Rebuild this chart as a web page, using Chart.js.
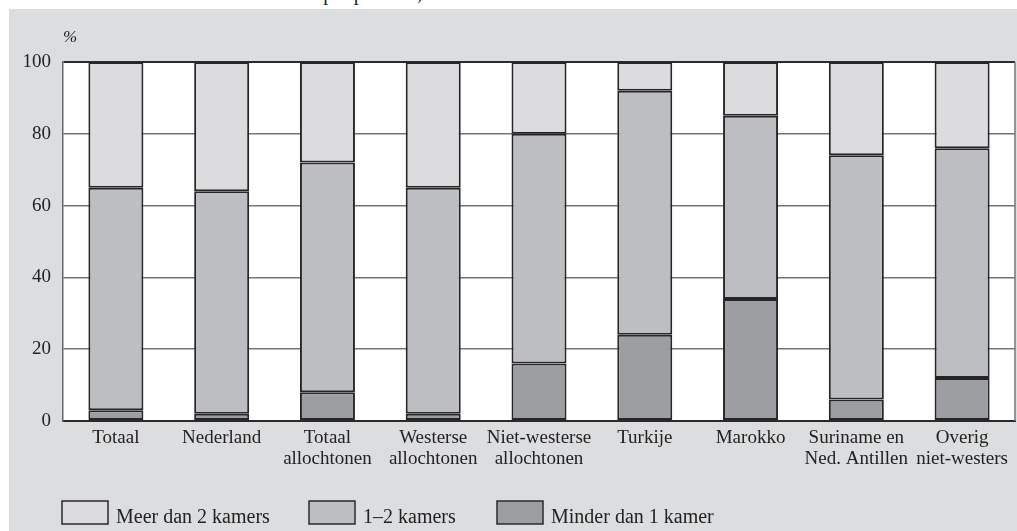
<!DOCTYPE html>
<html>
<head>
<meta charset="utf-8">
<script src="https://cdn.jsdelivr.net/npm/chart.js@4/dist/chart.umd.min.js"></script>
<style>
  html, body { margin: 0; padding: 0; background: #ffffff; }
  #wrap { position: relative; width: 1017px; height: 531px; overflow: hidden; }
  #panel { position: absolute; left: 9px; top: 9px; width: 1008px; height: 522px; background: #dcdddf; }
  #title { position: absolute; left: 0; top: -17px; width: 467px; text-align: right; white-space: nowrap;
           font: 20px "Liberation Serif", serif; color: #222; line-height: 20px; }
  #c { position: absolute; left: 0; top: 0; }
</style>
</head>
<body>
<div id="wrap">
  <div id="title">Huishoudens naar aantal kamers per persoon, 2006</div>
  <div id="panel"></div>
  <canvas id="c" width="1017" height="531"></canvas>
</div>
<script>
// Categories (multi-line labels)
const categories = [
  ['Totaal'],
  ['Nederland'],
  ['Totaal', 'allochtonen'],
  ['Westerse', 'allochtonen'],
  ['Niet-westerse', 'allochtonen'],
  ['Turkije'],
  ['Marokko'],
  ['Suriname en', 'Ned. Antillen'],
  ['Overig', 'niet-westers']
];

// Shares in %, stacked bottom to top
const minderDan1 = [3, 2, 8, 2, 16, 24, 34, 6, 12];
const eenTotTwee = [62, 62, 64, 63, 64, 68, 51, 68, 64];
const meerDan2   = [35, 36, 28, 35, 20, 8, 15, 26, 24];

const yTicks = [0, 20, 40, 60, 80, 100];

const FONT = '"Liberation Serif", serif';
const INK = '#222222';

// White plot background
const plotBackground = {
  id: 'plotBackground',
  beforeDraw(chart) {
    const { ctx, chartArea: a } = chart;
    ctx.save();
    ctx.fillStyle = '#ffffff';
    ctx.fillRect(a.left, a.top, a.right - a.left, a.bottom - a.top);
    ctx.restore();
  }
};

// Right frame line, unit label and legend row
const extras = {
  id: 'extras',
  afterDraw(chart) {
    const { ctx, chartArea: a } = chart;
    ctx.save();
    ctx.strokeStyle = '#777777';
    ctx.lineWidth = 1.5;
    ctx.beginPath();
    ctx.moveTo(a.right, a.top);
    ctx.lineTo(a.right, a.bottom);
    ctx.stroke();

    ctx.fillStyle = INK;
    ctx.font = 'italic 17px ' + FONT;
    ctx.textBaseline = 'alphabetic';
    ctx.fillText('%', 63, 42);

    // legend: top series first
    const order = chart.data.datasets.slice().reverse();
    const boxX = [62, 309, 497];
    ctx.font = '20px ' + FONT;
    order.forEach((ds, i) => {
      const x = boxX[i];
      ctx.fillStyle = ds.backgroundColor;
      ctx.fillRect(x, 501, 46, 23);
      ctx.strokeStyle = '#2a2a2a';
      ctx.lineWidth = 1.5;
      ctx.strokeRect(x, 501, 46, 23);
      ctx.fillStyle = INK;
      ctx.fillText(ds.label, x + 54, 523);
    });
    ctx.restore();
  }
};

new Chart(document.getElementById('c'), {
  type: 'bar',
  data: {
    labels: categories,
    datasets: [
      { label: 'Minder dan 1 kamer', data: minderDan1, backgroundColor: '#9d9ea1' },
      { label: '1\u20132 kamers', data: eenTotTwee, backgroundColor: '#bdbec1' },
      { label: 'Meer dan 2 kamers', data: meerDan2, backgroundColor: '#dcdcde' }
    ].map(d => Object.assign(d, {
      borderColor: '#262626',
      borderWidth: 2,
      borderSkipped: false,
      barPercentage: 0.52,
      categoryPercentage: 1.0
    }))
  },
  options: {
    responsive: false,
    animation: false,
    devicePixelRatio: 1,
    layout: { padding: { top: 62, right: 2, left: 0, bottom: 0 } },
    plugins: { legend: { display: false }, tooltip: { enabled: false } },
    scales: {
      x: {
        stacked: true,
        grid: { display: false, drawTicks: false },
        border: { display: true, color: '#2a2a2a', width: 2 },
        ticks: {
          color: INK, font: { family: FONT, size: 19, lineHeight: 1.1 },
          padding: 7, maxRotation: 0, autoSkip: false
        },
        afterFit(scale) { scale.height = 110; }
      },
      y: {
        stacked: true,
        min: 0, max: 100,
        afterBuildTicks(scale) { scale.ticks = yTicks.map(v => ({ value: v })); },
        grid: {
          drawTicks: false,
          lineWidth: c => (c.tick && (c.tick.value === 100 || c.tick.value === 0)) ? 2 : 1.5,
          color: c => (c.tick && (c.tick.value === 100 || c.tick.value === 0)) ? '#2a2a2a' : '#757575'
        },
        border: { display: true, color: '#666666', width: 1.5 },
        ticks: { color: INK, font: { family: FONT, size: 19 }, padding: 12 },
        afterFit(scale) { scale.width = 63; }
      }
    }
  },
  plugins: [plotBackground, extras]
});
</script>
</body>
</html>
